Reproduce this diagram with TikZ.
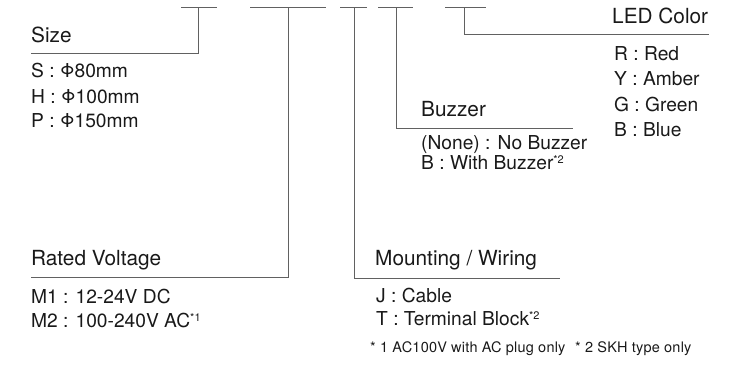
\documentclass[tikz,border=0pt]{standalone}
\usepackage{fontspec}
\setmainfont{TeX Gyre Heros}
\usetikzlibrary{positioning}

\newcommand{\fnmark}[1]{\raisebox{5.5pt}{\fontsize{11}{11}\selectfont#1}}

\tikzset{
  lead/.style={draw=black!62, line width=1pt},
  head/.style={anchor=base west, inner sep=0pt, text=black!90, font=\fontsize{20.8}{22}\selectfont},
  item/.style={anchor=base west, inner sep=0pt, text=black!90, font=\fontsize{19.2}{21}\selectfont},
  note/.style={anchor=base west, inner sep=0pt, text=black!90, font=\addfontfeature{LetterSpace=1.5}\fontsize{14.5}{16}\selectfont}
}

\begin{document}
\begin{tikzpicture}[x=1pt,y=-1pt]
\useasboundingbox (0,0) rectangle (730,377);

% code bars on top
\coordinate (b1l) at (181,8); \coordinate (b1r) at (217,8); \coordinate (b1) at (198,8);
\coordinate (b2l) at (250,8); \coordinate (b2r) at (326,8); \coordinate (b2) at (288,8);
\coordinate (b3l) at (340,8); \coordinate (b3r) at (367,8); \coordinate (b3) at (354,8);
\coordinate (b4l) at (378,8); \coordinate (b4r) at (413,8); \coordinate (b4) at (396,8);
\coordinate (b5l) at (445,8); \coordinate (b5r) at (486,8); \coordinate (b5) at (464,8);
\draw[lead] (b1l) -- (b1r);
\draw[lead] (b2l) -- (b2r);
\draw[lead] (b3l) -- (b3r);
\draw[lead] (b4l) -- (b4r);
\draw[lead] (b5l) -- (b5r);

% leader ends
\coordinate (sizeend) at (31,54);
\coordinate (voltend) at (31,277);
\coordinate (mountend) at (560,278);
\coordinate (buzzend) at (573,128);
\coordinate (ledend) at (709,35);

\draw[lead] (b1) |- (sizeend);
\draw[lead] (b2) |- (voltend);
\draw[lead] (b3) |- (mountend);
\draw[lead] (b4) |- (buzzend);
\draw[lead] (b5) |- (ledend);

% Size
\node[head] (size) at (31,43) {Size};
\node[item] (sizeS) at (31,78) {S : Φ80mm};
\node[item] (sizeH) at (31,103) {H : Φ100mm};
\node[item] (sizeP) at (31,128) {P : Φ150mm};

% LED Color
\node[head] (led) at (612,24) {LED Color};
\node[item] (ledR) at (614,61) {R : Red};
\node[item] (ledY) at (614,86) {Y : Amber};
\node[item] (ledG) at (614,111) {G : Green};
\node[item] (ledB) at (614,136) {B : Blue};

% Buzzer
\node[head] (buzz) at (421,117) {Buzzer};
\node[item] (buzzN) at (421,149) {(None) : No Buzzer};
\node[item] (buzzB) at (421,169) {B : With Buzzer\fnmark{*2}};

% Rated Voltage
\node[head] (volt) at (31,265) {Rated Voltage};
\node[item] (voltA) at (31,303) {M1 : 12-24V DC};
\node[item] (voltB) at (31,327) {M2 : 100-240V AC\fnmark{*1}};

% Mounting / Wiring
\node[head] (mount) at (375,265) {Mounting / Wiring};
\node[item] (mountJ) at (376,302) {J : Cable};
\node[item] (mountT) at (376,325) {T : Terminal Block\fnmark{*2}};

% notes
\node[note] (noteA) at (370,352) {* 1 AC100V with AC plug only};
\node[note] (noteB) at (575,352) {* 2 SKH type only};
\end{tikzpicture}
\end{document}
